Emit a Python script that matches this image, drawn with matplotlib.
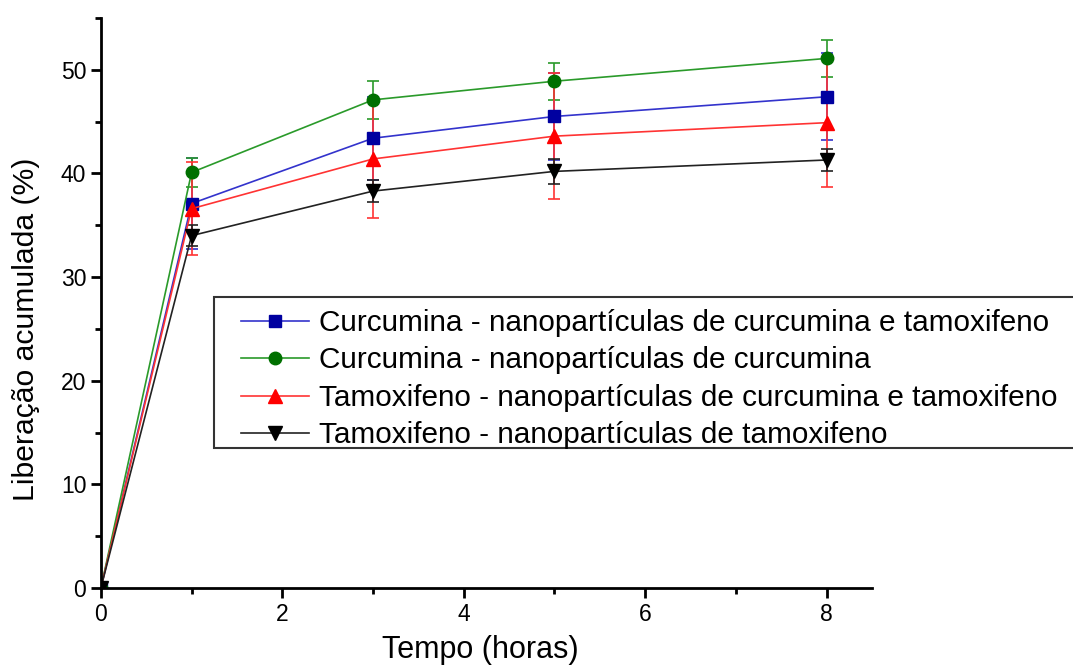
import numpy as np
import matplotlib
matplotlib.use("Agg")
import matplotlib.pyplot as plt
from matplotlib.ticker import MultipleLocator
from matplotlib.lines import Line2D
from matplotlib.patches import Rectangle
from matplotlib.legend_handler import HandlerLine2D

plt.rcParams['font.family'] = ['Liberation Sans', 'DejaVu Sans']

# release time (hours)
tempo = [0, 1, 3, 5, 8]

# cumulative release (%) and standard deviations for each formulation
cur_cur_tam = [0, 37.1, 43.4, 45.5, 47.4]
cur_cur_tam_err = [0, 4.4, 4.0, 4.2, 4.2]

cur_cur = [0, 40.1, 47.1, 48.9, 51.1]
cur_cur_err = [0, 1.4, 1.8, 1.8, 1.8]

tam_cur_tam = [0, 36.6, 41.4, 43.6, 44.9]
tam_cur_tam_err = [0, 4.5, 5.7, 6.1, 6.2]

tam_tam = [0, 34.0, 38.3, 40.2, 41.3]
tam_tam_err = [0, 1.0, 1.1, 1.2, 1.1]

labels = [
    "Curcumina - nanopartículas de curcumina e tamoxifeno",
    "Curcumina - nanopartículas de curcumina",
    "Tamoxifeno - nanopartículas de curcumina e tamoxifeno",
    "Tamoxifeno - nanopartículas de tamoxifeno",
]

series = [
    (cur_cur_tam, cur_cur_tam_err, "#0000a0", "#3333cc", "s", 8.5),
    (cur_cur, cur_cur_err, "#007000", "#2a9a2a", "o", 9),
    (tam_cur_tam, tam_cur_tam_err, "#ff0000", "#ff3333", "^", 10),
    (tam_tam, tam_tam_err, "#000000", "#222222", "v", 10),
]

fig = plt.figure(figsize=(10.73, 6.66), dpi=100)
ax = fig.add_axes([0.094, 0.117, 0.7187, 0.856])

handles = []
for (y, err, mc, lc, mk, ms), lab in zip(series, labels):
    ax.errorbar(tempo, y, yerr=err, color=lc, marker=mk, markersize=ms,
                markerfacecolor=mc, markeredgecolor=mc, linewidth=1.2,
                elinewidth=1.2, capsize=4.3, capthick=1.2)
    # legend entry without the error bar glyph
    handles.append(Line2D([], [], color=lc, marker=mk, markersize=ms,
                          markerfacecolor=mc, markeredgecolor=mc,
                          linewidth=1.2, label=lab))

ax.set_xlim(0, 8.5)
ax.set_ylim(0, 55)
ax.xaxis.set_major_locator(MultipleLocator(2))
ax.xaxis.set_minor_locator(MultipleLocator(1))
ax.yaxis.set_major_locator(MultipleLocator(10))
ax.yaxis.set_minor_locator(MultipleLocator(5))

for s in ['top', 'right']:
    ax.spines[s].set_visible(False)
for s in ['left', 'bottom']:
    ax.spines[s].set_linewidth(2)

ax.tick_params(which='major', direction='out', length=7, width=2, labelsize=16.5)
ax.tick_params(which='minor', direction='out', length=4, width=2)

ax.set_xlabel("Tempo (horas)", fontsize=22)
ax.xaxis.set_label_coords(0.4916, -0.082)
ax.set_ylabel("Liberação acumulada (%)", fontsize=21.7)
ax.yaxis.set_label_coords(-0.079, 0.454)

leg = ax.legend(handles=handles, loc='upper left',
                bbox_to_anchor=(0.1994, 0.554),
                bbox_transform=fig.transFigure, fontsize=21.4, frameon=False,
                borderaxespad=0, handlelength=2.79,
                labelspacing=0.32, borderpad=0.4, handletextpad=0.34,
                handler_map={Line2D: HandlerLine2D(xpad=0.5)})

# legend box, open past the right edge of the figure
box = Rectangle((0.1994, 0.3273), 0.82, 0.2267, transform=fig.transFigure,
                facecolor='white', edgecolor='#333333', linewidth=1.5,
                zorder=leg.get_zorder() - 0.1, clip_on=False)
ax.add_artist(box)

fig.savefig("out.png", dpi=100)
